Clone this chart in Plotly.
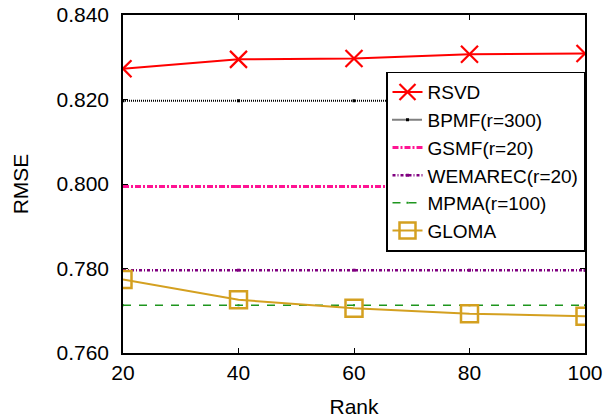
import plotly.graph_objects as go

ranks = [20, 40, 60, 80, 100]
rsvd = [0.8273, 0.8295, 0.8297, 0.8307, 0.8309]
bpmf = [0.8197, 0.8197, 0.8197, 0.8197, 0.8197]
gsmf = [0.7994, 0.7994, 0.7994, 0.7994, 0.7994]
wemarec = [0.7796, 0.7796, 0.7796, 0.7796, 0.7796]
mpma = [0.7713, 0.7713, 0.7713, 0.7713, 0.7713]
gloma = [0.7774, 0.7726, 0.7706, 0.7693, 0.7687]

y_ticks = [0.760, 0.780, 0.800, 0.820, 0.840]
y_tick_labels = ["0.760", "0.780", "0.800", "0.820", "0.840"]
x_ticks = [20, 40, 60, 80, 100]

FONT = "Liberation Sans, Arial, Helvetica, sans-serif"

fig = go.Figure()
fig.add_trace(go.Scatter(x=ranks, y=rsvd, name="RSVD", mode="lines+markers",
                         line=dict(color="#ff0000", width=2),
                         marker=dict(symbol="x-thin", size=17, line=dict(color="#ff0000", width=2.2))))
fig.add_trace(go.Scatter(x=ranks, y=bpmf, name="BPMF(r=300)", mode="lines+markers",
                         line=dict(color="#000000", width=2, dash="1px,1px"),
                         marker=dict(symbol="square", size=3, color="#000000")))
fig.add_trace(go.Scatter(x=ranks, y=gsmf, name="GSMF(r=20)", mode="lines+markers",
                         line=dict(color="#ff1493", width=3, dash="6px,2px,2px,2px"),
                         marker=dict(symbol="square", size=3, color="#ff1493")))
fig.add_trace(go.Scatter(x=ranks, y=wemarec, name="WEMAREC(r=20)", mode="lines+markers",
                         line=dict(color="#800080", width=2.5, dash="3px,2px,1px,2px"),
                         marker=dict(symbol="square", size=3, color="#800080")))
fig.add_trace(go.Scatter(x=ranks, y=mpma, name="MPMA(r=100)", mode="lines+markers",
                         line=dict(color="#1e961e", width=1.5, dash="8px,8px"),
                         marker=dict(symbol="square", size=2, color="#1e961e")))
fig.add_trace(go.Scatter(x=ranks, y=gloma, name="GLOMA", mode="lines+markers",
                         line=dict(color="#d4a020", width=2),
                         marker=dict(symbol="square-open", size=17, color="#d4a020",
                                     line=dict(color="#d4a020", width=2.5))))

axis_common = dict(showline=True, linecolor="black", linewidth=1.5, mirror="allticks",
                   ticks="inside", ticklen=5, tickcolor="black", showgrid=False, zeroline=False,
                   automargin=False, ticklabeloverflow="allow",
                   tickfont=dict(size=21, color="black", family=FONT))

fig.update_xaxes(range=[20, 100], tickvals=x_ticks, ticktext=[str(v) for v in x_ticks],
                 title=dict(text="Rank", font=dict(size=21, color="black", family=FONT), standoff=16),
                 ticklabelstandoff=0, **axis_common)
fig.update_yaxes(range=[0.760, 0.840], tickvals=y_ticks, ticktext=y_tick_labels,
                 title=dict(text="RMSE", font=dict(size=21, color="black", family=FONT), standoff=22),
                 ticklabelstandoff=8, **axis_common)

fig.update_layout(
    width=615, height=418,
    margin=dict(l=123, r=30, t=15, b=65),
    paper_bgcolor="white", plot_bgcolor="white",
    font=dict(family=FONT, size=21, color="black"),
    showlegend=True,
    legend=dict(x=1, xanchor="right", y=0.566, yanchor="middle",
                bgcolor="white", bordercolor="black", borderwidth=1.5,
                font=dict(size=19, color="black", family=FONT),
                itemwidth=30, tracegroupgap=0),
)

# Remove the default 8px page margin so the figure fills the window exactly.
fig.write_html("out.html", config={"displayModeBar": False},
               post_script="document.body.style.margin='0';")
